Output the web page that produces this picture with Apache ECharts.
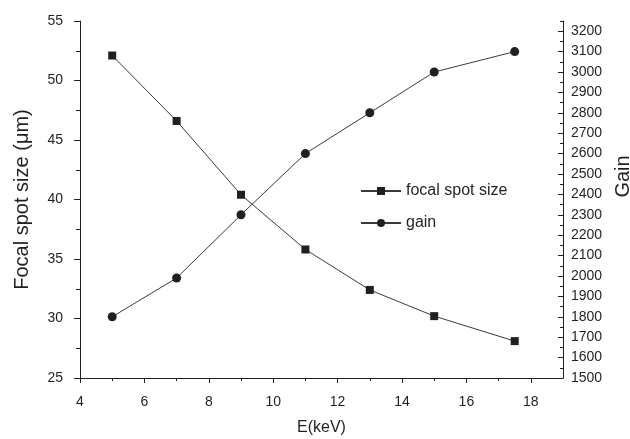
<!DOCTYPE html>
<html>
<head>
<meta charset="utf-8">
<script src="https://cdn.jsdelivr.net/npm/echarts@6/dist/echarts.min.js"></script>
<style>
html,body{margin:0;padding:0;background:#fff;}
#chart{width:630px;height:439px;}
</style>
</head>
<body>
<div id="chart"></div>
<script>
// ---- data ----
var energy = [5, 7, 9, 11, 13, 15, 17.5];
var focalSpotSize = [52.1, 46.6, 40.4, 35.8, 32.4, 30.2, 28.1];
var gain = [1800, 1990, 2300, 2600, 2800, 3000, 3100];
var seriesNames = ['focal spot size', 'gain'];

var xTicks = [4, 6, 8, 10, 12, 14, 16, 18];
var xMinor = [5, 7, 9, 11, 13, 15, 17];
var leftTicks = [25, 30, 35, 40, 45, 50, 55];
var leftMinor = [27.5, 32.5, 37.5, 42.5, 47.5, 52.5];
var rightTicks = [1500,1600,1700,1800,1900,2000,2100,2200,2300,2400,2500,2600,2700,2800,2900,3000,3100,3200];
var rightMinor = [1550,1650,1750,1850,1950,2050,2150,2250,2350,2450,2550,2650,2750,2850,2950,3050,3150,3250];

var xRange = [4, 19];
var leftRange = [25, 55];
var rightRange = [1500, 3250];

// ---- chart ----
var FONT = 'Liberation Sans, Arial, Helvetica, sans-serif';
var INK = '#231f20';
var chart = echarts.init(document.getElementById('chart'), null, {renderer: 'canvas'});

function zip(xs, ys) { return xs.map(function (x, i) { return [x, ys[i]]; }); }
function plain(v) { return String(v); }

var lineStyleAxis = {color: INK, width: 1};

var option = {
  animation: false,
  backgroundColor: '#fff',
  grid: {left: 80, right: 67, top: 21, bottom: 61, containLabel: false, outerBoundsMode: 'none'},
  legend: {
    orient: 'vertical',
    left: 355,
    top: 178,
    itemWidth: 40,
    itemHeight: 10,
    itemGap: 16,
    textStyle: {fontFamily: FONT, fontSize: 16, color: INK},
    data: seriesNames
  },
  xAxis: [
    {
      type: 'value', min: xRange[0], max: xRange[1],
      name: 'E(keV)', nameLocation: 'middle', nameGap: 42,
      nameTextStyle: {fontFamily: FONT, fontSize: 16, color: INK},
      axisLine: {lineStyle: lineStyleAxis},
      axisTick: {show: true, inside: false, length: 5, lineStyle: lineStyleAxis, customValues: xTicks},
      axisLabel: {fontFamily: FONT, fontSize: 14, color: INK, margin: 17, customValues: xTicks, formatter: plain},
      splitLine: {show: false}
    },
    {
      type: 'value', min: xRange[0], max: xRange[1], position: 'bottom',
      axisLine: {show: false},
      axisTick: {show: true, inside: false, length: 3, lineStyle: lineStyleAxis, customValues: xMinor},
      axisLabel: {show: false},
      splitLine: {show: false}
    }
  ],
  yAxis: [
    {
      type: 'value', min: leftRange[0], max: leftRange[1], position: 'left',
      name: 'Focal spot size (\u03bcm)', nameLocation: 'middle', nameGap: 48,
      nameTextStyle: {fontFamily: FONT, fontSize: 20, color: INK},
      axisLine: {show: true, lineStyle: lineStyleAxis},
      axisTick: {show: true, inside: false, length: 6, lineStyle: lineStyleAxis, customValues: leftTicks},
      axisLabel: {fontFamily: FONT, fontSize: 14, color: INK, margin: 17, customValues: leftTicks, formatter: plain},
      splitLine: {show: false}
    },
    {
      type: 'value', min: rightRange[0], max: rightRange[1], position: 'right',
      name: 'Gain', nameLocation: 'middle', nameGap: 37,
      nameTextStyle: {fontFamily: FONT, fontSize: 20, color: INK, padding: [0, 0, 0, 46]},
      axisLine: {show: true, lineStyle: lineStyleAxis},
      axisTick: {show: true, inside: true, length: 5, lineStyle: lineStyleAxis, customValues: rightTicks},
      axisLabel: {fontFamily: FONT, fontSize: 14, color: INK, margin: 8, customValues: rightTicks, formatter: plain},
      splitLine: {show: false}
    },
    {
      type: 'value', min: leftRange[0], max: leftRange[1], position: 'left',
      axisLine: {show: false},
      axisTick: {show: true, inside: false, length: 4, lineStyle: lineStyleAxis, customValues: leftMinor},
      axisLabel: {show: false},
      splitLine: {show: false}
    },
    {
      type: 'value', min: rightRange[0], max: rightRange[1], position: 'right',
      axisLine: {show: false},
      axisTick: {show: true, inside: true, length: 3, lineStyle: lineStyleAxis, customValues: rightMinor},
      axisLabel: {show: false},
      splitLine: {show: false}
    }
  ],
  series: [
    {
      name: seriesNames[0], type: 'line', xAxisIndex: 0, yAxisIndex: 0,
      data: zip(energy, focalSpotSize),
      symbol: 'rect', symbolSize: 8,
      lineStyle: {color: '#3a3a3a', width: 1},
      itemStyle: {color: INK},
      z: 3
    },
    {
      name: seriesNames[1], type: 'line', xAxisIndex: 0, yAxisIndex: 1,
      data: zip(energy, gain),
      symbol: 'circle', symbolSize: 9,
      lineStyle: {color: '#3a3a3a', width: 1},
      itemStyle: {color: INK},
      z: 3
    }
  ]
};
chart.setOption(option);
</script>
</body>
</html>
